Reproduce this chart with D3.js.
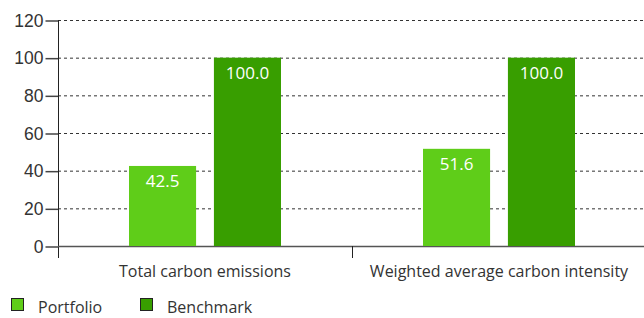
<!DOCTYPE html>
<html>
<head>
<meta charset="utf-8">
<script src="https://cdn.jsdelivr.net/npm/d3@7"></script>
<style>
  body { margin: 0; background: #fff; }
  svg { display: block; font-family: "Open Sans", sans-serif; }
</style>
</head>
<body>
<svg id="chart" width="644" height="318"></svg>
<script>
var categories = ["Total carbon emissions", "Weighted average carbon intensity"];
var seriesNames = ["Portfolio", "Benchmark"];
var portfolio = [42.5, 51.6];
var benchmark = [100.0, 100.0];
var yTicks = [0, 20, 40, 60, 80, 100, 120];
var colors = ["#5fcd19", "#389e00"];

var svg = d3.select("#chart");
var mLeft = 58, mRight = 646, mTop = 20, mBottom = 246;

var x = d3.scaleBand().domain(categories).range([mLeft, mRight]);
var xs = d3.scaleBand().domain(seriesNames).range([0, 152]).paddingInner(0.21);
var y = d3.scaleLinear().domain([0, 120]).range([mBottom, mTop]);

// gridlines
svg.append("g")
  .selectAll("line")
  .data(yTicks)
  .join("line")
  .attr("x1", mLeft).attr("x2", 644)
  .attr("y1", d => y(d) + 0.5).attr("y2", d => y(d) + 0.5)
  .attr("stroke", "#333")
  .attr("stroke-dasharray", "3,3");

// y axis
var yAxis = svg.append("g")
  .attr("transform", "translate(" + (mLeft + 0.5) + ",0.5)")
  .call(d3.axisLeft(y).tickValues(yTicks).tickSize(13).tickPadding(2));
yAxis.select(".domain").remove();
yAxis.selectAll(".tick line").attr("stroke", "#444").attr("stroke-width", 1.5);
yAxis.selectAll("text").attr("fill", "#333").style("font-size", "17.5px");
svg.append("line")
  .attr("x1", mLeft + 0.5).attr("x2", mLeft + 0.5)
  .attr("y1", mTop).attr("y2", mBottom + 12)
  .attr("stroke", "#222");

// x axis baseline and category divider
svg.append("line")
  .attr("x1", mLeft).attr("x2", 644)
  .attr("y1", mBottom + 0.5).attr("y2", mBottom + 0.5)
  .attr("stroke", "#555").attr("stroke-width", 1.5);
svg.append("line")
  .attr("x1", x(categories[1]) + 0.5).attr("x2", x(categories[1]) + 0.5)
  .attr("y1", mBottom).attr("y2", mBottom + 12)
  .attr("stroke", "#222");

// bars
var rows = categories.map((c, i) => ({ cat: c, values: [portfolio[i], benchmark[i]] }));
var groups = svg.append("g")
  .selectAll("g")
  .data(rows)
  .join("g")
  .attr("transform", d => "translate(" + (x(d.cat) + x.bandwidth() / 2 - 76) + ",0)");

var bars = groups.selectAll("g")
  .data(d => d.values.map((v, j) => ({ name: seriesNames[j], value: v, color: colors[j] })))
  .join("g");

bars.append("rect")
  .attr("x", d => xs(d.name))
  .attr("width", xs.bandwidth())
  .attr("y", d => y(d.value))
  .attr("height", d => y(0) - y(d.value))
  .attr("fill", d => d.color);

bars.append("text")
  .attr("x", d => xs(d.name) + xs.bandwidth() / 2)
  .attr("y", d => y(d.value) + 21)
  .attr("text-anchor", "middle")
  .attr("fill", "#fff")
  .style("font-size", "17px")
  .text(d => d.value.toFixed(1));

// category labels
svg.append("g")
  .selectAll("text")
  .data(categories)
  .join("text")
  .attr("x", d => x(d) + x.bandwidth() / 2)
  .attr("y", 277)
  .attr("text-anchor", "middle")
  .attr("fill", "#333")
  .style("font-size", "16px")
  .text(d => d);

// legend
var legend = svg.append("g")
  .selectAll("g")
  .data(seriesNames)
  .join("g")
  .attr("transform", (d, i) => "translate(" + (11 + i * 129) + ",298)");
legend.append("rect")
  .attr("x", 0.5).attr("y", 0.5)
  .attr("width", 12).attr("height", 12)
  .attr("fill", (d, i) => colors[i])
  .attr("stroke", "#222");
legend.append("text")
  .attr("x", 27).attr("y", 15)
  .attr("fill", "#333")
  .style("font-size", "16px")
  .text(d => d);
</script>
</body>
</html>
